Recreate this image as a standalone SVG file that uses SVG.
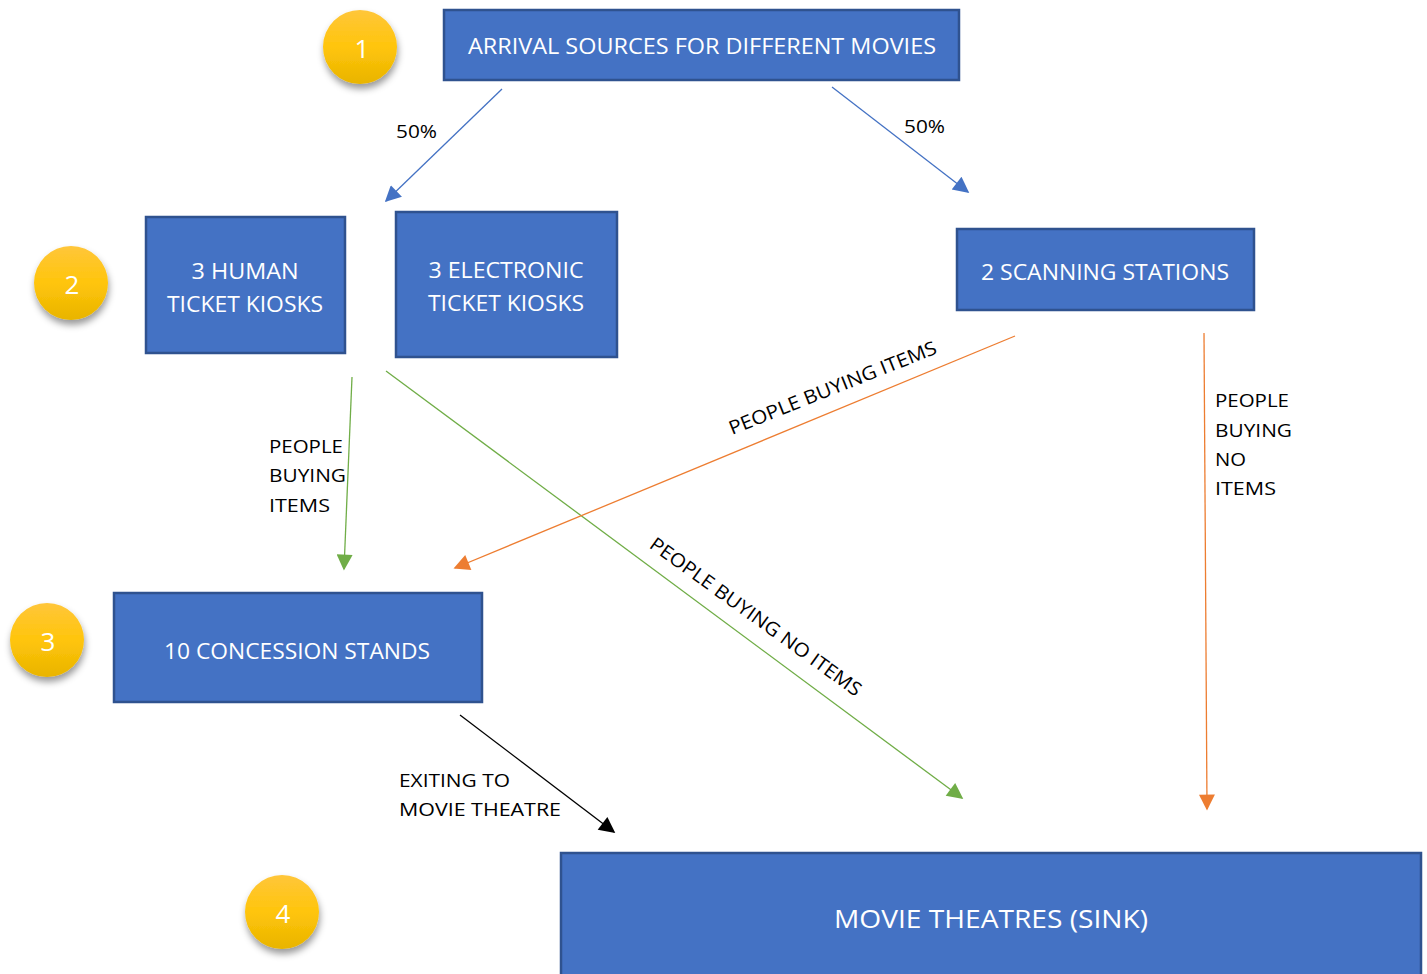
<svg xmlns="http://www.w3.org/2000/svg" width="1427" height="974" viewBox="0 0 1427 974">
<style>
.box{fill:#4472C4;stroke:#2F528F;stroke-width:2.5}
.bt{fill:#fff;font-family:"Open Sans","Liberation Sans",sans-serif;font-size:21px;text-anchor:middle}
.lb{fill:#000;font-family:"Open Sans","Liberation Sans",sans-serif;font-size:19px}
.ct{fill:#fff;font-family:"Open Sans","Liberation Sans",sans-serif;font-size:26px;text-anchor:middle}
.circ{fill:url(#gold);filter:url(#sh)}
</style>
<defs>
<linearGradient id="gold" x1="0" y1="0" x2="0" y2="1">
<stop offset="0" stop-color="#FFC63A"/>
<stop offset="0.5" stop-color="#FFC50B"/>
<stop offset="1" stop-color="#E9B400"/>
</linearGradient>
<filter id="sh" x="-30%" y="-30%" width="170%" height="170%">
<feDropShadow dx="1" dy="5" stdDeviation="3.5" flood-color="#000" flood-opacity="0.4"/>
</filter>
<marker id="ab" viewBox="0 0 10 10" refX="9" refY="5" markerWidth="18" markerHeight="16" markerUnits="userSpaceOnUse" orient="auto"><path d="M0,0 L10,5 L0,10 Z" fill="#4472C4"/></marker>
<marker id="ag" viewBox="0 0 10 10" refX="9" refY="5" markerWidth="18" markerHeight="16" markerUnits="userSpaceOnUse" orient="auto"><path d="M0,0 L10,5 L0,10 Z" fill="#70AD47"/></marker>
<marker id="ao" viewBox="0 0 10 10" refX="9" refY="5" markerWidth="18" markerHeight="16" markerUnits="userSpaceOnUse" orient="auto"><path d="M0,0 L10,5 L0,10 Z" fill="#ED7D31"/></marker>
<marker id="ak" viewBox="0 0 10 10" refX="9" refY="5" markerWidth="18" markerHeight="16" markerUnits="userSpaceOnUse" orient="auto"><path d="M0,0 L10,5 L0,10 Z" fill="#000"/></marker>
</defs>

<g id="connectors" fill="none" stroke-width="1.3">
<line x1="502" y1="89" x2="386" y2="201" stroke="#4472C4" marker-end="url(#ab)"/>
<line x1="832" y1="87" x2="968" y2="192" stroke="#4472C4" marker-end="url(#ab)"/>
<line x1="352" y1="377" x2="344" y2="569" stroke="#70AD47" marker-end="url(#ag)"/>
<line x1="386" y1="371" x2="962" y2="798" stroke="#70AD47" marker-end="url(#ag)"/>
<line x1="1015" y1="336" x2="455" y2="568" stroke="#ED7D31" marker-end="url(#ao)"/>
<line x1="1204" y1="333" x2="1207" y2="809" stroke="#ED7D31" marker-end="url(#ao)"/>
<line x1="460" y1="715" x2="614" y2="832" stroke="#000" marker-end="url(#ak)"/>
</g>

<g id="labels">
<text class="lb" x="396" y="138" textLength="41" lengthAdjust="spacingAndGlyphs">50%</text>
<text class="lb" x="904" y="133" textLength="41" lengthAdjust="spacingAndGlyphs">50%</text>
<text class="lb" x="269" y="453" textLength="74" lengthAdjust="spacingAndGlyphs">PEOPLE</text>
<text class="lb" x="269" y="482" textLength="77" lengthAdjust="spacingAndGlyphs">BUYING</text>
<text class="lb" x="269" y="512" textLength="61" lengthAdjust="spacingAndGlyphs">ITEMS</text>
<text class="lb" x="1215" y="407" textLength="74" lengthAdjust="spacingAndGlyphs">PEOPLE</text>
<text class="lb" x="1215" y="437" textLength="77" lengthAdjust="spacingAndGlyphs">BUYING</text>
<text class="lb" x="1215" y="466" textLength="31" lengthAdjust="spacingAndGlyphs">NO</text>
<text class="lb" x="1215" y="495" textLength="61" lengthAdjust="spacingAndGlyphs">ITEMS</text>
<text class="lb" x="399" y="787" textLength="111" lengthAdjust="spacingAndGlyphs">EXITING TO</text>
<text class="lb" x="399" y="816" textLength="162" lengthAdjust="spacingAndGlyphs">MOVIE THEATRE</text>
<text class="lb" text-anchor="middle" transform="translate(752,622) rotate(35.9)" textLength="256" lengthAdjust="spacingAndGlyphs">PEOPLE BUYING NO ITEMS</text>
<text class="lb" text-anchor="middle" transform="translate(835,394) rotate(-21.7)" textLength="222" lengthAdjust="spacingAndGlyphs">PEOPLE BUYING ITEMS</text>
</g>

<g id="n-arrival"><rect class="box" x="444" y="10" width="515" height="70"/><text class="bt" x="702" y="54" textLength="468" lengthAdjust="spacingAndGlyphs">ARRIVAL SOURCES FOR DIFFERENT MOVIES</text></g>
<g id="n-human"><rect class="box" x="146" y="217" width="199" height="136"/><text class="bt" x="245" y="279" textLength="107" lengthAdjust="spacingAndGlyphs">3 HUMAN</text><text class="bt" x="245" y="312" textLength="156" lengthAdjust="spacingAndGlyphs">TICKET KIOSKS</text></g>
<g id="n-electronic"><rect class="box" x="396" y="212" width="221" height="145"/><text class="bt" x="506" y="278" textLength="155" lengthAdjust="spacingAndGlyphs">3 ELECTRONIC</text><text class="bt" x="506" y="311" textLength="156" lengthAdjust="spacingAndGlyphs">TICKET KIOSKS</text></g>
<g id="n-scanning"><rect class="box" x="957" y="229" width="297" height="81"/><text class="bt" x="1105" y="280" textLength="248" lengthAdjust="spacingAndGlyphs">2 SCANNING STATIONS</text></g>
<g id="n-concession"><rect class="box" x="114" y="593" width="368" height="109"/><text class="bt" x="297" y="659" textLength="266" lengthAdjust="spacingAndGlyphs">10 CONCESSION STANDS</text></g>
<g id="n-theatres"><rect class="box" x="561" y="853" width="860" height="130"/><text class="ct" x="991" y="928" textLength="314" lengthAdjust="spacingAndGlyphs">MOVIE THEATRES (SINK)</text></g>

<g id="step1"><circle class="circ" cx="360" cy="47" r="37"/><text class="ct" x="362" y="58">1</text></g>
<g id="step2"><circle class="circ" cx="71" cy="283" r="37"/><text class="ct" x="72" y="294">2</text></g>
<g id="step3"><circle class="circ" cx="47" cy="640" r="37"/><text class="ct" x="48" y="651">3</text></g>
<g id="step4"><circle class="circ" cx="282" cy="912" r="37"/><text class="ct" x="283" y="923">4</text></g>
</svg>
